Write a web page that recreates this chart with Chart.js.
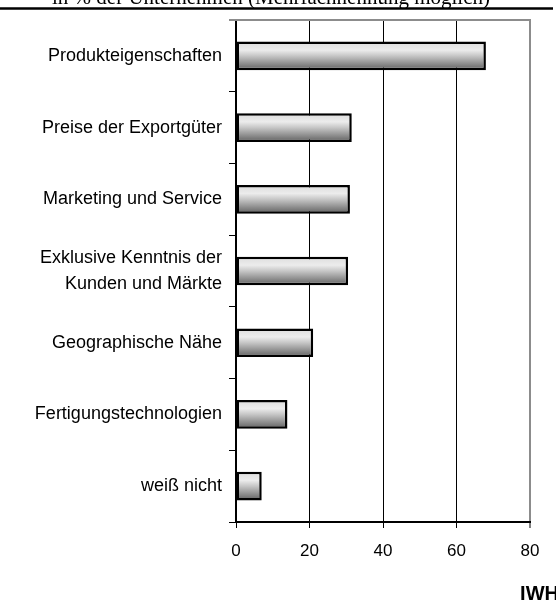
<!DOCTYPE html>
<html>
<head>
<meta charset="utf-8">
<script src="https://cdn.jsdelivr.net/npm/chart.js@4/dist/chart.umd.min.js"></script>
<style>
  html, body { margin: 0; padding: 0; background: #fff; }
  #grafik { display: block; }
</style>
</head>
<body>
<canvas id="grafik" width="556" height="605"></canvas>
<script>
// Kategorien (von oben nach unten)
const kategorien = [
  "Produkteigenschaften",
  "Preise der Exportgüter",
  "Marketing und Service",
  ["Exklusive Kenntnis der", "Kunden und Märkte"],
  "Geographische Nähe",
  "Fertigungstechnologien",
  "weiß nicht"
];
// Anteil der Unternehmen in %
const anteile = [68, 31.5, 31, 30.5, 21, 14, 7];
// Achsenbeschriftung
const achsenWerte = [0, 20, 40, 60, 80];
const kopfText = "in % der Unternehmen (Mehrfachnennung möglich)";
const quelle = "IWH";

const schrift = "'Liberation Sans', Arial, sans-serif";

// Verlauf für jeden Balken (hell oben, dunkel unten)
function balkenVerlauf(context) {
  const chart = context.chart;
  const y = chart.scales.y;
  if (!chart.chartArea || !y) return "#bbb";
  const mitte = y.getPixelForValue(context.dataIndex);
  const halb = 14.5;
  const g = chart.ctx.createLinearGradient(0, mitte - halb, 0, mitte + halb);
  g.addColorStop(0, "#dcdcdc");
  g.addColorStop(0.3, "#ececec");
  g.addColorStop(0.5, "#c6c6c6");
  g.addColorStop(1, "#5e5e5e");
  return g;
}

// Kopfzeile, Rahmen oben und Quelle
const extras = {
  id: "extras",
  beforeDatasetsDraw(chart) {
    const { ctx, chartArea } = chart;
    ctx.save();
    ctx.strokeStyle = "#8c8c8c";
    ctx.lineWidth = 2;
    ctx.beginPath();
    ctx.moveTo(chartArea.left - 7, chartArea.top);
    ctx.lineTo(chartArea.right + 1, chartArea.top);
    ctx.stroke();
    ctx.restore();
  },
  afterDraw(chart) {
    const { ctx } = chart;
    ctx.save();
    ctx.fillStyle = "#000";
    ctx.font = "21px 'Liberation Serif', 'Times New Roman', serif";
    ctx.textAlign = "center";
    ctx.textBaseline = "alphabetic";
    ctx.fillText(kopfText, 271, 4);
    ctx.strokeStyle = "#000";
    ctx.lineWidth = 2.5;
    ctx.beginPath();
    ctx.moveTo(0, 8.5);
    ctx.lineTo(553, 8.5);
    ctx.stroke();
    ctx.font = "bold 20px " + schrift;
    ctx.textAlign = "right";
    ctx.fillText(quelle, 559, 600);
    ctx.restore();
  }
};

new Chart(document.querySelector("#grafik"), {
  type: "bar",
  data: {
    labels: kategorien,
    datasets: [{
      data: anteile,
      backgroundColor: balkenVerlauf,
      borderColor: "#000",
      borderWidth: 2.5,
      borderSkipped: false,
      barPercentage: 0.4,
      categoryPercentage: 1
    }]
  },
  options: {
    indexAxis: "y",
    responsive: false,
    animation: false,
    layout: { padding: { top: 18, right: 26, left: 0, bottom: 0 } },
    plugins: {
      legend: { display: false },
      tooltip: { enabled: false },
      title: { display: false }
    },
    scales: {
      x: {
        min: 0,
        max: 80,
        afterFit(scale) { scale.height = 83; },
        afterBuildTicks(scale) { scale.ticks = achsenWerte.map(v => ({ value: v })); },
        border: { color: "#000", width: 2 },
        grid: {
          color: c => c.tick && c.tick.value === 80 ? "#8c8c8c" : (c.tick && c.tick.value === 0 ? "rgba(0,0,0,0)" : "#000"),
          lineWidth: c => c.tick && c.tick.value === 80 ? 2 : 1,
          tickColor: "#000",
          tickLength: 6,
          tickWidth: 1
        },
        ticks: {
          color: "#000",
          padding: 13,
          font: { family: schrift, size: 17 }
        }
      },
      y: {
        afterFit(scale) { scale.width = 236; },
        offset: true,
        border: { color: "#000", width: 2 },
        grid: {
          offset: true,
          drawOnChartArea: false,
          tickColor: "#000",
          tickLength: 7,
          tickWidth: 1
        },
        ticks: {
          color: "#000",
          padding: 7,
          crossAlign: "near",
          font: { family: schrift, size: 18, lineHeight: 1.45 }
        }
      }
    }
  },
  plugins: [extras]
});
</script>
</body>
</html>
